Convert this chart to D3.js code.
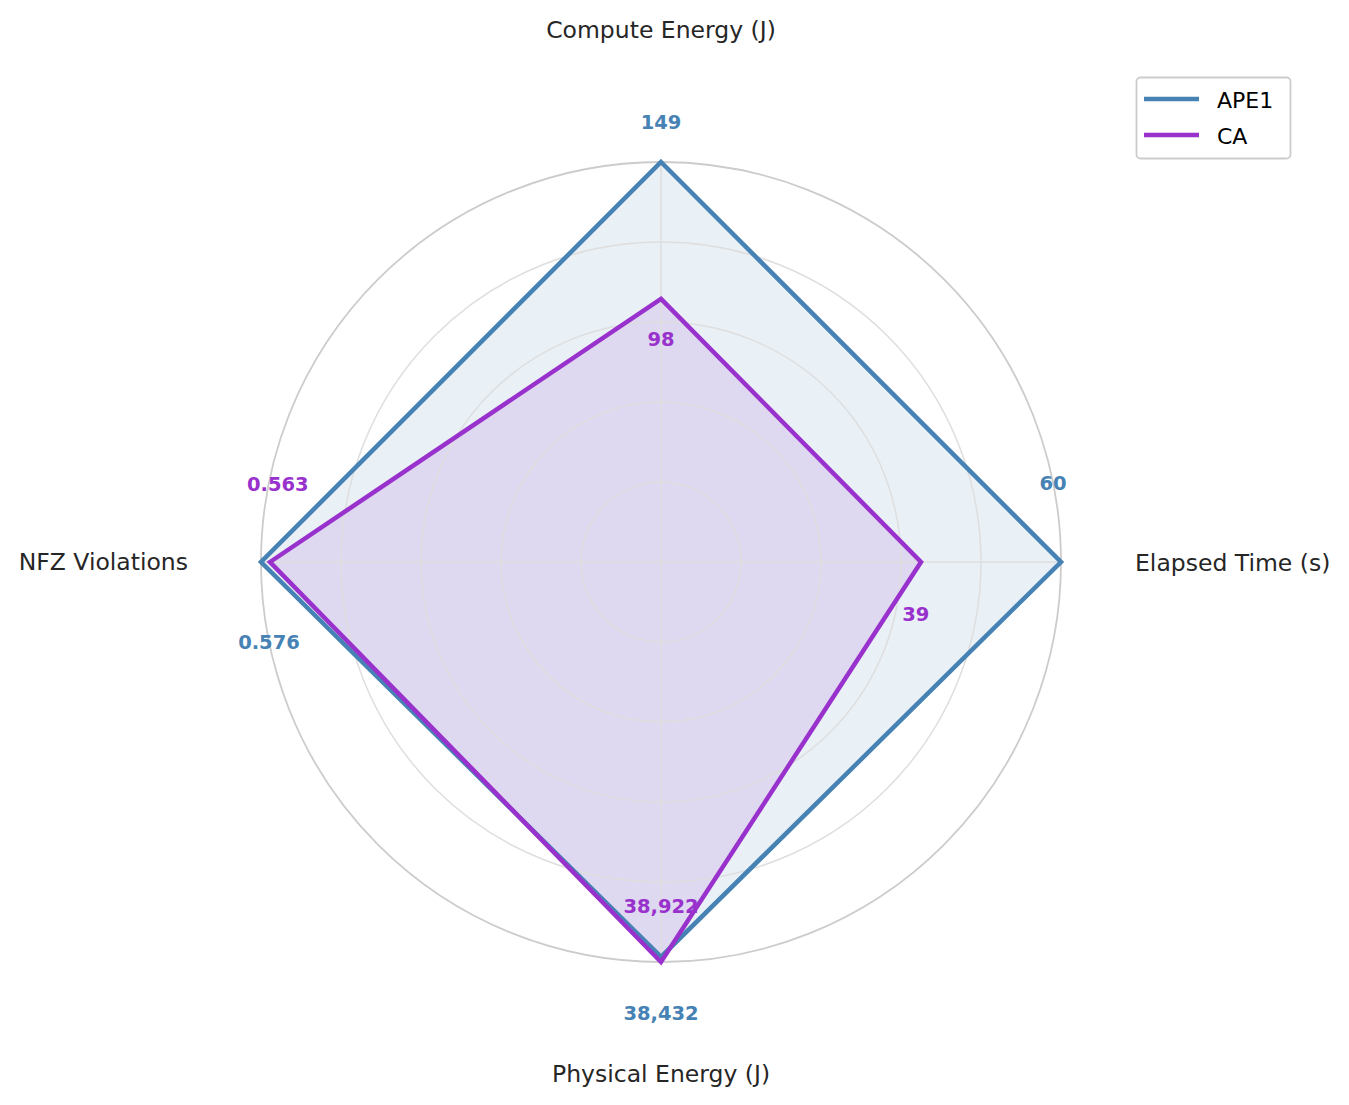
<!DOCTYPE html>
<html>
<head>
<meta charset="utf-8">
<script src="https://cdn.jsdelivr.net/npm/d3@7/dist/d3.min.js"></script>
<style>
  html, body { margin: 0; padding: 0; background: #ffffff; }
  svg { display: block; font-family: "DejaVu Sans", sans-serif; }
</style>
</head>
<body>
<svg id="chart" width="1349" height="1105"></svg>
<script>
// ---- data ----
const axes = ["Compute Energy (J)", "Elapsed Time (s)", "Physical Energy (J)", "NFZ Violations"];
const seriesNames = ["APE1", "CA"];
const ape1Values = [149, 60, 38432, 0.576];
const caValues = [98, 39, 38922, 0.563];
const valueFormats = [",.0f", ",.0f", ",.0f", ".3f"];
const gridLevels = [0.2, 0.4, 0.6, 0.8, 1.0];

// ---- layout / style ----
const W = 1349, H = 1105;
const cx = 661, cy = 562, R = 400;
const colors = ["#4682b4", "#9932cc"];
const fillOpacity = 0.12;
// label offsets per axis: radial (normalized) and angular (radians); sign per series (+ for APE1, - for CA)
const labelRadial = [0.10, 0, 0.14, 0];
const labelAngular = [0, -0.2, 0, -0.2];

const svg = d3.select("#chart");
const g = svg.append("g").attr("transform", `translate(${cx},${cy})`);

const r = d3.scaleLinear().domain([0, 1]).range([0, R]);
const ang = i => (2 * Math.PI * i) / axes.length; // clockwise from top

const series = [ape1Values, caValues];
const maxes = axes.map((a, i) => d3.max(series, s => s[i]));
const norm = series.map(s => s.map((v, i) => v / maxes[i]));

const px = (a, rr) => rr * Math.sin(a);
const py = (a, rr) => -rr * Math.cos(a);

const line = d3.lineRadial()
  .angle((d, i) => ang(i))
  .radius(d => r(d))
  .curve(d3.curveLinearClosed);

// fills
norm.forEach((s, k) => {
  g.append("path").datum(s)
    .attr("d", line)
    .attr("fill", colors[k]).attr("fill-opacity", fillOpacity)
    .attr("stroke", "none");
});

// grid circles (drawn over fills, as in reference)
g.selectAll("circle.grid").data(gridLevels).join("circle")
  .attr("class", "grid")
  .attr("r", d => r(d))
  .attr("fill", "none")
  .attr("stroke", d => d === 1 ? "#cccccc" : "#dedede")
  .attr("stroke-width", d => d === 1 ? 1.8 : 1.5);

// spokes
g.selectAll("line.spoke").data(axes).join("line")
  .attr("class", "spoke")
  .attr("x1", 0).attr("y1", 0)
  .attr("x2", (d, i) => px(ang(i), r(1)))
  .attr("y2", (d, i) => py(ang(i), r(1)))
  .attr("stroke", "#dedede").attr("stroke-width", 1.5);

// outlines
norm.forEach((s, k) => {
  g.append("path").datum(s)
    .attr("d", line)
    .attr("fill", "none")
    .attr("stroke", colors[k]).attr("stroke-width", 4.5)
    .attr("stroke-linejoin", "miter");
});

// value labels
const vfs = 19.5;
series.forEach((s, k) => {
  const sign = k === 0 ? 1 : -1;
  s.forEach((v, i) => {
    const a = ang(i) + sign * labelAngular[i];
    const rr = r(norm[k][i] + sign * labelRadial[i]);
    g.append("text")
      .attr("x", px(a, rr))
      .attr("y", py(a, rr) + vfs * 0.3645)
      .attr("text-anchor", "middle")
      .attr("font-size", vfs)
      .attr("font-weight", "bold")
      .attr("fill", colors[k])
      .text(d3.format(valueFormats[i])(v));
  });
});

// axis labels
const afs = 23.5;
const axisLabelPos = [
  { x: 0, y: 37.5 - cy, anchor: "middle" },
  { x: 1135 - cx, y: 571 - cy, anchor: "start" },
  { x: 0, y: 1082 - cy, anchor: "middle" },
  { x: 188 - cx, y: 570 - cy, anchor: "end" }
];
g.selectAll("text.axis").data(axes).join("text")
  .attr("class", "axis")
  .attr("x", (d, i) => axisLabelPos[i].x)
  .attr("y", (d, i) => axisLabelPos[i].y)
  .attr("text-anchor", (d, i) => axisLabelPos[i].anchor)
  .attr("font-size", afs)
  .attr("fill", "#262626")
  .text(d => d);

// legend
const lg = svg.append("g").attr("transform", "translate(1136,77)");
lg.append("rect").attr("x", 0.5).attr("y", 0.5).attr("width", 154).attr("height", 81)
  .attr("rx", 4).attr("fill", "#ffffff").attr("fill-opacity", 0.8)
  .attr("stroke", "#cccccc").attr("stroke-width", 1.8);
seriesNames.forEach((n, k) => {
  const yy = 22 + k * 36;
  lg.append("line").attr("x1", 8).attr("x2", 63).attr("y1", yy).attr("y2", yy)
    .attr("stroke", colors[k]).attr("stroke-width", 4.5);
  lg.append("text").attr("x", 81).attr("y", yy + 9)
    .attr("font-size", 22).attr("fill", "#000000").text(n);
});
</script>
</body>
</html>
